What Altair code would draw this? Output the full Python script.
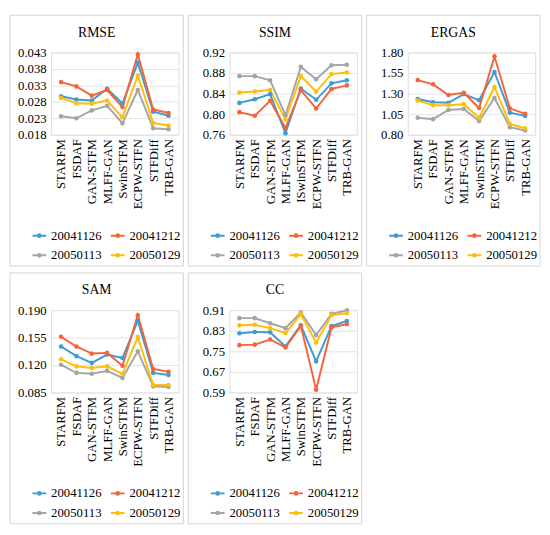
import altair as alt
import pandas as pd

methods = ["STARFM", "FSDAF", "GAN-STFM", "MLFF-GAN", "SwinSTFM", "ECPW-STFN", "STFDiff", "TRB-GAN"]
methods_ssim = ["STARFM", "FSDAF", "GAN-STFM", "MLFF-GAN", "ISwinSTFM", "ECPW-STFN", "STFDiff", "TRB-GAN"]
dates = ["20041126", "20041212", "20050113", "20050129"]
colors = ["#3E9BD4", "#F4643A", "#A5A5A5", "#FFBE0B"]

rmse_20041126 = [0.0297, 0.0287, 0.0284, 0.0320, 0.0275, 0.0399, 0.0250, 0.0238]
rmse_20041212 = [0.0340, 0.0327, 0.0299, 0.0316, 0.0264, 0.0424, 0.0257, 0.0246]
rmse_20050113 = [0.0236, 0.0230, 0.0254, 0.0268, 0.0215, 0.0316, 0.0200, 0.0197]
rmse_20050129 = [0.0292, 0.0276, 0.0274, 0.0284, 0.0233, 0.0360, 0.0216, 0.0208]
rmse_ticks = [0.018, 0.023, 0.028, 0.033, 0.038, 0.043]

ssim_20041126 = [0.822, 0.829, 0.839, 0.763, 0.850, 0.828, 0.860, 0.866]
ssim_20041212 = [0.804, 0.797, 0.826, 0.773, 0.847, 0.811, 0.849, 0.856]
ssim_20050113 = [0.874, 0.874, 0.866, 0.798, 0.892, 0.868, 0.895, 0.896]
ssim_20050129 = [0.842, 0.844, 0.847, 0.790, 0.874, 0.844, 0.878, 0.881]
ssim_ticks = [0.76, 0.80, 0.84, 0.88, 0.92]

ergas_20041126 = [1.235, 1.196, 1.188, 1.294, 1.219, 1.563, 1.069, 1.030]
ergas_20041212 = [1.464, 1.413, 1.283, 1.310, 1.125, 1.753, 1.121, 1.054]
ergas_20050113 = [1.006, 0.990, 1.101, 1.113, 0.967, 1.247, 0.892, 0.852]
ergas_20050129 = [1.215, 1.160, 1.160, 1.172, 1.006, 1.381, 0.931, 0.880]
ergas_ticks = [0.80, 1.05, 1.30, 1.55, 1.80]

sam_20041126 = [0.1437, 0.1314, 0.1228, 0.1334, 0.1289, 0.1765, 0.1100, 0.1072]
sam_20041212 = [0.1560, 0.1437, 0.1346, 0.1355, 0.1190, 0.1834, 0.1150, 0.1113]
sam_20050113 = [0.1203, 0.1100, 0.1088, 0.1125, 0.1035, 0.1375, 0.0928, 0.0920]
sam_20050129 = [0.1273, 0.1183, 0.1162, 0.1183, 0.1088, 0.1556, 0.0945, 0.0945]
sam_ticks = [0.085, 0.120, 0.155, 0.190]

cc_20041126 = [0.820, 0.825, 0.824, 0.769, 0.851, 0.711, 0.848, 0.868]
cc_20041212 = [0.774, 0.776, 0.796, 0.765, 0.849, 0.601, 0.843, 0.855]
cc_20050113 = [0.879, 0.879, 0.859, 0.840, 0.901, 0.813, 0.896, 0.909]
cc_20050129 = [0.851, 0.853, 0.840, 0.821, 0.894, 0.784, 0.890, 0.898]
cc_ticks = [0.59, 0.67, 0.75, 0.83, 0.91]

FONT = "Liberation Serif"
PW, PH = 130, 84          # plot area
FL, FT = 42, 38           # frame offset left/top from plot
FW, FH = 177, 256         # frame size

SYMBOL = "M-1,0H1M-0.2,0A0.2,0.2,0,1,0,0.2,0A0.2,0.2,0,1,0,-0.2,0Z"


def panel(title, labels, series, ticks, fmt):
    rows = []
    for d, vals in zip(dates, series):
        for i, (m, v) in enumerate(zip(labels, vals)):
            rows.append({"method": m, "date": d, "value": v, "idx": i})
    df = pd.DataFrame(rows)

    base = alt.Chart(df).encode(
        x=alt.X("method:N", sort=labels, scale=alt.Scale(padding=0.65),
                axis=alt.Axis(title=None, labelAngle=-90, labelFont=FONT, labelFontSize=13,
                              labelColor="#000000", labelPadding=4, domain=False, ticks=False,
                              grid=False)),
        y=alt.Y("value:Q", scale=alt.Scale(domain=[ticks[0], ticks[-1]], nice=False, zero=False),
                axis=alt.Axis(title=None, values=ticks, format=fmt, labelFont=FONT,
                              labelFontSize=13, labelColor="#000000", labelPadding=5,
                              domain=False, ticks=False, grid=True, gridColor="#E3E3E3",
                              gridWidth=1)),
        color=alt.Color("date:N", scale=alt.Scale(domain=dates, range=colors),
                        legend=alt.Legend(orient="none", legendX=-20, legendY=179, columns=2,
                                          direction="horizontal",
                                          title=None, symbolType=SYMBOL, symbolSize=196,
                                          symbolStrokeWidth=2, labelFont=FONT, labelFontSize=13,
                                          labelColor="#000000", labelOffset=4,
                                          columnPadding=5, rowPadding=5, padding=0)),
        order="idx:Q",
    )
    lines = base.mark_line(strokeWidth=2)
    pts = base.mark_circle(size=22, opacity=1)

    frame = alt.Chart(pd.DataFrame({"k": [0]})).mark_rect(
        fill="transparent", stroke="#D4D4D4", strokeWidth=1
    ).encode(x=alt.value(-FL), x2=alt.value(FW - FL), y=alt.value(-FT), y2=alt.value(FH - FT))

    ttl = alt.Chart(pd.DataFrame({"t": [title]})).mark_text(
        font=FONT, fontSize=14, color="#000000", align="center", baseline="middle"
    ).encode(text="t:N", x=alt.value(FW / 2 - FL), y=alt.value(-20))

    return alt.layer(frame, ttl, lines, pts).properties(width=PW, height=PH)


p1 = panel("RMSE", methods, [rmse_20041126, rmse_20041212, rmse_20050113, rmse_20050129], rmse_ticks, ".3f")
p2 = panel("SSIM", methods_ssim, [ssim_20041126, ssim_20041212, ssim_20050113, ssim_20050129], ssim_ticks, ".2f")
p3 = panel("ERGAS", methods, [ergas_20041126, ergas_20041212, ergas_20050113, ergas_20050129], ergas_ticks, ".2f")
p4 = panel("SAM", methods, [sam_20041126, sam_20041212, sam_20050113, sam_20050129], sam_ticks, ".3f")
p5 = panel("CC", methods, [cc_20041126, cc_20041212, cc_20050113, cc_20050129], cc_ticks, ".2f")

top = alt.hconcat(p1, p2, p3, spacing=3).resolve_scale(color="independent", y="independent", x="independent").resolve_legend(color="independent")
bottom = alt.hconcat(p4, p5, spacing=3).resolve_scale(color="independent", y="independent", x="independent").resolve_legend(color="independent")

chart = alt.vconcat(top, bottom, spacing=5).resolve_scale(
    color="independent", y="independent", x="independent"
).resolve_legend(color="independent").properties(
    padding={"left": 1, "top": 1, "right": 1, "bottom": 1}
).configure_view(stroke="transparent").configure(
    background="#FFFFFF", font=FONT
).configure_axis(labelFont=FONT).configure_legend(labelFont=FONT).configure_text(font=FONT)

chart.save("out.html", embed_options={"renderer": "svg", "actions": False})
